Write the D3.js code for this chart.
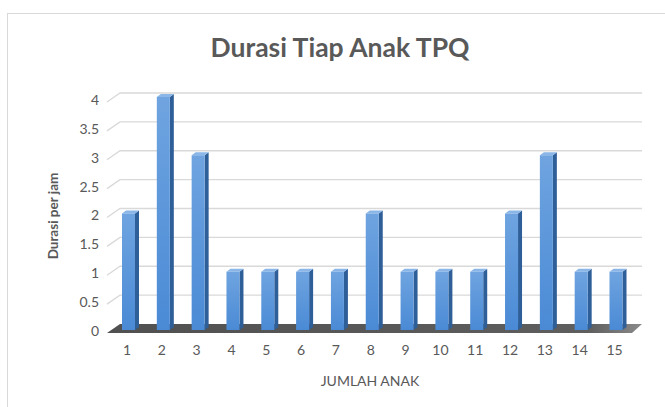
<!DOCTYPE html>
<html>
<head>
<meta charset="UTF-8">
<title>Durasi Tiap Anak TPQ</title>
<script src="https://d3js.org/d3.v7.min.js"></script>
<style>
  body { margin: 0; background: #fff; }
  text { font-family: Lato, "Open Sans", sans-serif; fill: #595959; }
</style>
</head>
<body>
<svg width="665" height="407"></svg>
<script>
var anak = ["1","2","3","4","5","6","7","8","9","10","11","12","13","14","15"];
var durasi = [2, 4, 3, 1, 1, 1, 1, 2, 1, 1, 1, 2, 3, 1, 1];
var yTicks = [0, 0.5, 1, 1.5, 2, 2.5, 3, 3.5, 4];

var svg = d3.select("svg");

// chart frame
svg.append("rect")
    .attr("x", 7.5).attr("y", 13.5)
    .attr("width", 700).attr("height", 500)
    .attr("fill", "#fff").attr("stroke", "#d9d9d9");

var defs = svg.append("defs");
var gFront = defs.append("linearGradient").attr("id", "front")
    .attr("x1", 0).attr("y1", 0).attr("x2", 0).attr("y2", 1);
gFront.append("stop").attr("offset", "0%").attr("stop-color", "#6fa4e0");
gFront.append("stop").attr("offset", "100%").attr("stop-color", "#4a8ad5");
var gFloor = defs.append("linearGradient").attr("id", "floor")
    .attr("x1", 0).attr("y1", 0).attr("x2", 1).attr("y2", 0);
gFloor.append("stop").attr("offset", "0%").attr("stop-color", "#505050");
gFloor.append("stop").attr("offset", "90%").attr("stop-color", "#5e5e5e");
gFloor.append("stop").attr("offset", "100%").attr("stop-color", "#8a8a8a");

// back wall and front plane scales
var yBack = d3.scaleLinear().domain([0, 4]).range([324, 93]);
var yBar = d3.scaleLinear().domain([0, 4]).range([330, 97]);
var x = d3.scalePoint().domain(anak).range([128.5, 616]);

var wallLeft = 120, wallRight = 642, sideDx = 13, sideDy = 9;
var barW = 13, dx = 4, dy = -3;

// gridlines
var grid = svg.append("g");
yTicks.filter(function(t) { return t > 0; }).forEach(function(t) {
    grid.append("path")
        .attr("d", "M" + (wallLeft - sideDx) + "," + (yBack(t) + sideDy) +
            "L" + wallLeft + "," + yBack(t) + "L" + wallRight + "," + yBack(t))
        .attr("fill", "none").attr("stroke", "#d9d9d9").attr("stroke-width", 1.3);
});

// floor
svg.append("path")
    .attr("d", "M" + (wallLeft - sideDx) + "," + (yBack(0) + sideDy) +
        "L" + (wallRight - sideDx + 3) + "," + (yBack(0) + sideDy) +
        "L" + wallRight + "," + yBack(0) +
        "L" + wallLeft + "," + yBack(0) + "Z")
    .attr("fill", "url(#floor)");

// bars
var bars = svg.append("g").selectAll("g").data(durasi).join("g");
bars.append("path")
    .attr("d", function(d, i) {
        var x0 = x(anak[i]) - barW / 2, yt = yBar(d), yb = yBar(0);
        return "M" + (x0 + barW) + "," + yt + "L" + (x0 + barW + dx) + "," + (yt + dy) +
            "L" + (x0 + barW + dx) + "," + (yb + dy) + "L" + (x0 + barW) + "," + yb + "Z";
    })
    .attr("fill", "#2f5f98");
bars.append("path")
    .attr("d", function(d, i) {
        var x0 = x(anak[i]) - barW / 2, yt = yBar(d);
        return "M" + x0 + "," + yt + "L" + (x0 + barW) + "," + yt +
            "L" + (x0 + barW + dx) + "," + (yt + dy) + "L" + (x0 + dx) + "," + (yt + dy) + "Z";
    })
    .attr("fill", "#8ab6e8");
bars.append("rect")
    .attr("x", function(d, i) { return x(anak[i]) - barW / 2; })
    .attr("y", function(d) { return yBar(d); })
    .attr("width", barW)
    .attr("height", function(d) { return yBar(0) - yBar(d); })
    .attr("fill", "url(#front)");

// y axis labels
var yAxisScale = yBack.copy().range(yBack.range().map(function(v) { return v + 7; }));
svg.append("g")
    .attr("transform", "translate(" + (wallLeft - sideDx - 8) + ",0)")
    .call(d3.axisLeft(yAxisScale).tickValues(yTicks).tickSize(0).tickPadding(0)
        .tickFormat(function(d) { return String(d); }))
    .call(function(g) { g.select(".domain").remove(); })
    .selectAll("text")
    .style("font-family", "Lato, sans-serif")
    .style("font-size", "14px").attr("fill", "#595959");

// x axis labels
svg.append("g")
    .attr("transform", "translate(-2,345)")
    .call(d3.axisBottom(x).tickSize(0).tickPadding(0))
    .call(function(g) { g.select(".domain").remove(); })
    .selectAll("text")
    .style("font-family", "Lato, sans-serif")
    .style("font-size", "14px").attr("fill", "#595959");

// titles
svg.append("text")
    .attr("x", 340).attr("y", 57)
    .attr("text-anchor", "middle")
    .style("font-size", "26.5px").style("font-weight", "bold")
    .text("Durasi Tiap Anak TPQ");

svg.append("text")
    .attr("transform", "translate(58,216) rotate(-90)")
    .attr("text-anchor", "middle")
    .style("font-size", "13.5px").style("font-weight", "bold")
    .text("Durasi per jam");

svg.append("text")
    .attr("x", 370).attr("y", 386)
    .attr("text-anchor", "middle")
    .style("font-size", "14px")
    .text("JUMLAH ANAK");
</script>
</body>
</html>
